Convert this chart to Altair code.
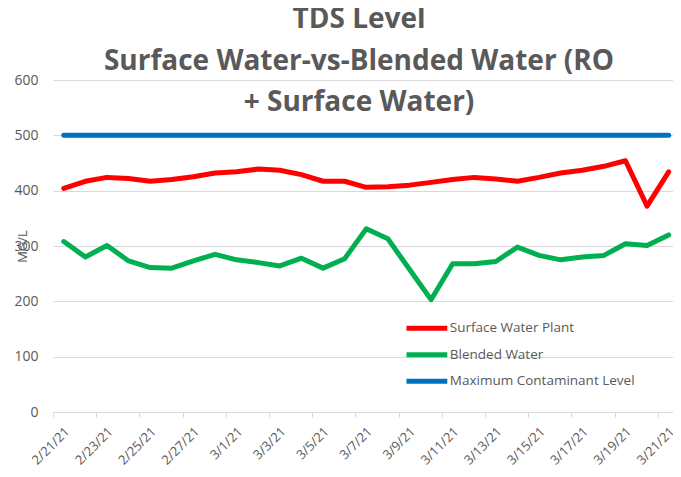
import json
import altair as alt
import pandas as pd

dates = ["2/21/21", "2/22/21", "2/23/21", "2/24/21", "2/25/21", "2/26/21", "2/27/21", "2/28/21",
         "3/1/21", "3/2/21", "3/3/21", "3/4/21", "3/5/21", "3/6/21", "3/7/21", "3/8/21", "3/9/21",
         "3/10/21", "3/11/21", "3/12/21", "3/13/21", "3/14/21", "3/15/21", "3/16/21", "3/17/21",
         "3/18/21", "3/19/21", "3/20/21", "3/21/21"]
surface_water = [404, 417, 424, 422, 417, 420, 425, 432, 434, 439, 437, 429, 417, 417, 406,
                 407, 410, 415, 420, 424, 421, 417, 424, 432, 437, 444, 454, 372, 434]
blended_water = [308, 280, 301, 273, 261, 260, 273, 285, 275, 270, 264, 278, 260, 277, 331,
                 313, 258, 203, 268, 268, 272, 298, 283, 275, 280, 283, 304, 301, 320]
max_contaminant = [500, 500, 500, 500, 500, 500, 500, 500, 500, 500, 500, 500, 500, 500, 500,
                   500, 500, 500, 500, 500, 500, 500, 500, 500, 500, 500, 500, 500, 500]
series_names = ["Surface Water Plant", "Blended Water", "Maximum Contaminant Level"]
series_colors = ["#FF0000", "#00B050", "#0070C0"]
y_ticks = [0, 100, 200, 300, 400, 500, 600]
x_tick_idx = list(range(0, len(dates), 2))
title_lines = ["TDS Level", "Surface Water-vs-Blended Water (RO", "+ Surface Water)"]

rows = []
for k, (name, vals) in enumerate(zip(series_names, [surface_water, blended_water, max_contaminant])):
    for i, (d, v) in enumerate(zip(dates, vals)):
        rows.append({"idx": i, "date": d, "series": name, "value": v, "k": k})
df = pd.DataFrame(rows)

FONT = "Open Sans"
GRAY = "#595959"
W, H = 620, 332
x_dom = [-0.5, 28.2]
step = W / (x_dom[1] - x_dom[0])
label_expr = json.dumps(dates) + "[datum.value]"

chart = alt.Chart(df).mark_line(strokeWidth=5, strokeJoin="round", strokeCap="round").encode(
    x=alt.X("idx:Q",
            scale=alt.Scale(domain=x_dom, nice=False, zero=False),
            axis=alt.Axis(values=x_tick_idx, labelExpr=label_expr, labelAngle=-45, grid=False,
                          labelOverlap=False, labelBound=False, labelPadding=8,
                          domainColor="#d9d9d9", tickColor="#d9d9d9", tickSize=5,
                          tickOffset=-step / 2, labelOffset=step / 2 - 1,
                          labelFont=FONT, labelFontSize=13, labelColor=GRAY, title=None)),
    y=alt.Y("value:Q",
            scale=alt.Scale(domain=[0, 600], nice=False),
            axis=alt.Axis(values=y_ticks, grid=True, gridColor="#d9d9d9", domain=False, ticks=False,
                          labelPadding=15, labelFont=FONT, labelFontSize=14, labelColor=GRAY,
                          title="MG/L", titleFont=FONT, titleFontSize=13, titleFontWeight="normal",
                          titleColor=GRAY, titleX=-31, titleY=166, titleAngle=-90,
                          titleAlign="center", titleBaseline="middle")),
    color=alt.Color("series:N",
                    scale=alt.Scale(domain=series_names, range=series_colors),
                    legend=alt.Legend(orient="none", legendX=359.4, legendY=233.7, title=None,
                                      symbolType="M-1.7,0L1.7,0", symbolStrokeWidth=5,
                                      symbolSize=576, rowPadding=1.5, labelOffset=8.4,
                                      labelFont=FONT, labelFontSize=13.5, labelColor=GRAY,
                                      labelLimit=400)),
    detail="series:N",
).properties(
    width=W, height=H,
    title=alt.TitleParams(text=title_lines, font=FONT, fontSize=28, fontWeight="bold", color=GRAY,
                          anchor="middle", frame="group", lineHeight=41.5, baseline="top",
                          offset=0, dy=44, dx=-4),
    autosize=alt.AutoSizeParams(type="none"),
    padding={"left": 45, "top": 72, "right": 0, "bottom": 57},
).configure_view(stroke=None)

chart.save("out.html", embed_options={"renderer": "svg", "actions": False})
